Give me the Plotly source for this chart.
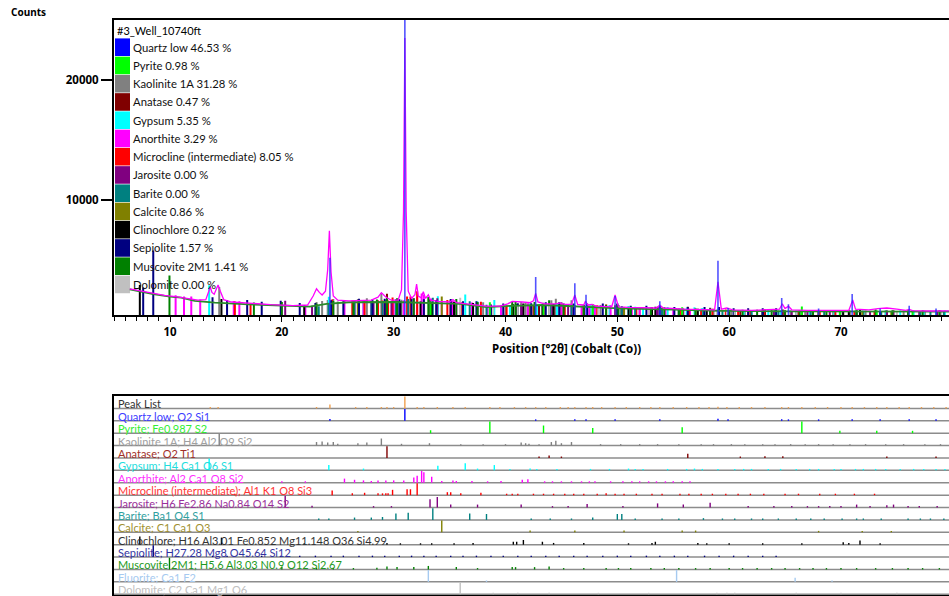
import numpy as np
import plotly.graph_objects as go

W, H = 949, 596
ML, MR, MT, MB = 114, 0, 20, 1
PW, PH = W - ML - MR, H - MT - MB

def px_x(px):
    return (px - ML) / PW

def px_y(py):
    return (H - MB - py) / PH

FONT = "Noto Sans"
LFONT = "Lato"
X_RANGE = [4.99, 79.66]
Y_RANGE = [400, 25000]

# ---------------- data ----------------
sample_name = "#3_Well_10740ft"

# background (green) line
bg_2theta = [6.4, 8.5, 10.0, 11.0, 12.2, 14.0, 17.0, 20.0, 22.5, 24.0, 26.0, 30.0, 33.0, 36.0,
             38.3, 40.5, 43.5, 46.0, 50.2, 55.0, 59.2, 65.0, 72.0, 79.66]
bg_counts = [2560, 2150, 1950, 1860, 1600, 1450, 1310, 1200, 1120, 1350, 1480, 1500, 1450, 1350,
             1080, 1180, 1250, 1150, 970, 860, 760, 720, 710, 700]

# observed scan (magenta)
obs_2theta = [6.4, 7.5, 8.5, 9.5, 10.5, 11.5, 12.5, 13.2, 13.45, 13.6, 13.75, 13.95, 14.15, 14.3,
              14.5, 14.8, 15.5, 17.0, 19.0, 21.0, 22.3, 22.8, 23.1, 23.35, 23.6, 23.9, 24.1, 24.25,
              24.4, 24.6, 25.0, 26.0, 27.0, 28.0, 28.6, 28.9, 29.2, 29.4, 29.8, 30.4, 30.7, 30.88,
              31.0, 31.12, 31.3, 31.6, 31.9, 32.05, 32.2, 32.45, 32.65, 32.85, 33.1, 33.3, 34.0,
              35.0, 35.3, 35.6, 36.5, 37.5, 38.3, 39.5, 40.2, 40.6, 41.0, 41.5, 42.2, 42.5, 42.7,
              42.9, 43.5, 44.5, 44.9, 45.3, 45.9, 46.2, 46.45, 47.0, 47.15, 47.35, 47.75, 48.1,
              49.5, 49.8, 50.1, 51.0, 53.5, 53.8, 54.1, 56.0, 58.7, 59.0, 59.3, 59.8, 60.3, 62.0,
              64.5, 64.75, 65.0, 65.3, 65.6, 67.0, 70.7, 71.05, 71.3, 72.5, 73.3, 74.1, 75.0, 75.8,
              76.1, 76.4, 78.0, 79.66]
obs_counts = [2600, 2400, 2200, 2050, 1950, 1800, 1650, 1700, 2400, 2750, 2300, 2150, 2600, 2920,
              2400, 1700, 1500, 1380, 1280, 1200, 1250, 2000, 2600, 2300, 2080, 2400, 4200, 7440,
              4000, 2000, 1650, 1600, 1620, 1650, 1900, 2280, 2000, 1850, 1650, 1650, 2500, 9000,
              23500, 9000, 2400, 1800, 2100, 3000, 2000, 1850, 2360, 1800, 2100, 1650, 1550,
              1500, 1700, 1450, 1350, 1250, 1150, 1150, 1350, 1550, 1500, 1500, 1450, 1600, 2220,
              1500, 1350, 1350, 1420, 1300, 1300, 2080, 1300, 1250, 1580, 1250, 1300, 1150,
              1100, 2080, 1100, 1050, 1000, 1250, 1000, 900, 850, 3190, 900, 1000, 850, 800,
              900, 1350, 950, 1150, 850, 800, 800, 1670, 900, 850, 950, 1000, 900, 800,
              880, 780, 750, 760]

# phases: legend name, percentage, colour
phase_names = ["Quartz low", "Pyrite", "Kaolinite 1A", "Anatase", "Gypsum", "Anorthite",
               "Microcline (intermediate)", "Jarosite", "Barite", "Calcite", "Clinochlore",
               "Sepiolite", "Muscovite 2M1", "Dolomite"]
phase_pct = [46.53, 0.98, 31.28, 0.47, 5.35, 3.29, 8.05, 0.00, 0.00, 0.86, 0.22, 1.57, 1.41, 0.00]
phase_colors = ["#0000ff", "#00ff00", "#808080", "#800000", "#00ffff", "#ff00ff", "#ff0000",
                "#800080", "#008080", "#808000", "#000000", "#000080", "#008000", "#c0c0c0"]
# top-plot stick height (counts above background) at relative intensity 100
phase_scale = [24000, 400, 1300, 700, 1300, 700, 900, 400, 400, 500, 500, 3650, 1550, 400]

# reference lines (2theta) and relative intensities per phase
quartz_pos = [24.3, 31.0, 42.7, 46.2, 47.2, 49.8, 53.8, 59.0, 59.9, 64.7, 65.3, 68.0, 71.0, 73.5, 76.1, 78.5]
quartz_rel = [16, 100, 10, 8, 4, 3.5, 2.5, 17, 1, 4.5, 2.5, 1, 6, 1, 2, 1]

pyrite_pos = [33.3, 38.6, 43.4, 47.8, 55.8, 66.5, 69.9, 73.2, 76.4]
pyrite_rel = [25, 100, 65, 45, 50, 100, 20, 20, 20]

kaolinite_pos = [14.4, 23.1, 23.6, 24.1, 24.6, 25.0, 26.8, 27.6, 28.9, 30.7, 33.2, 36.0, 38.0, 40.0,
                 41.4, 41.8, 42.1, 43.0, 44.1, 44.5, 45.0, 45.9, 48.5, 50.3, 52.0, 53.6, 55.5, 57.5,
                 58.6, 60.2, 61.4, 63.0, 64.1, 65.5, 66.8, 68.0, 69.3, 70.8, 72.2, 74.0, 75.6, 77.5, 78.9]
kaolinite_rel = [100, 30, 35, 25, 30, 15, 20, 25, 60, 15, 20, 10, 10, 8, 25, 20, 15, 10, 30, 40, 20,
                 30, 8, 6, 6, 6, 6, 6, 6, 5, 6, 5, 6, 5, 6, 5, 6, 5, 6, 8, 6, 5, 6]

anatase_pos = [29.4, 43.0, 43.9, 45.0, 56.3, 61.0, 63.2, 64.8, 74.1, 78.5]
anatase_rel = [100, 8, 20, 10, 35, 5, 15, 15, 10, 8]

gypsum_pos = [13.5, 24.2, 27.3, 33.95, 36.4, 37.5, 39.0, 40.4, 42.2, 42.8, 44.6, 47.6, 49.3, 51.0,
              51.6, 52.3, 54.5, 56.2, 56.9, 57.6, 59.0, 60.5, 61.3, 62.0, 63.5, 64.6, 66.0, 67.2,
              68.0, 69.4, 70.0, 71.3, 72.0, 73.1, 74.0, 75.3, 76.5, 77.4, 78.5, 79.3]
gypsum_rel = [100, 45, 15, 40, 60, 15, 45, 8, 15, 10, 8, 12, 8, 15, 10, 8, 8, 12, 15, 10, 8, 6, 6, 6,
              6, 6, 6, 6, 6, 6, 6, 6, 6, 6, 6, 6, 6, 6, 6, 6]

anorthite_pos = [10.5, 11.25, 11.9, 12.7, 15.7, 16.2, 20.0, 22.1, 25.6, 26.5, 27.3, 28.0, 28.6, 29.3,
                 30.0, 30.9, 31.8, 32.1, 32.5, 32.7, 33.4, 34.3, 35.3, 35.6, 37.0, 38.4, 39.6, 41.5,
                 42.0, 43.5, 44.2, 45.0, 45.9, 46.8, 47.5, 48.0, 49.4, 50.5, 51.3, 52.0, 52.8, 53.5,
                 54.3, 55.0, 55.8, 56.5]
anorthite_rel = [15, 15, 15, 15, 20, 15, 10, 8, 35, 25, 20, 15, 20, 18, 20, 20, 45, 60, 100, 90, 50,
                 15, 20, 15, 15, 8, 15, 25, 30, 10, 8, 8, 8, 8, 8, 8, 12, 8, 8, 8, 8, 8, 8, 8, 8, 8]

microcline_pos = [15.8, 17.2, 24.5, 26.3, 27.4, 28.6, 29.0, 29.3, 29.5, 29.9, 31.2, 31.5, 32.1, 34.8,
                  35.1, 36.0, 37.8, 40.1, 40.6, 41.1, 42.5, 43.4, 44.3, 45.3, 46.1, 47.0, 48.2, 49.0,
                  49.8, 50.6, 51.7, 53.1, 54.0, 55.6, 56.4, 57.5, 58.5, 59.7, 60.8, 61.9, 63.1, 65.0,
                  66.2, 68.1, 69.5, 71.2, 73.0]
microcline_rel = [10, 10, 40, 15, 20, 15, 15, 15, 15, 45, 50, 50, 100, 25, 25, 15, 20, 12, 12, 12, 8,
                  8, 8, 8, 8, 6, 8, 15, 8, 8, 8, 8, 8, 8, 8, 6, 8, 12, 8, 8, 8, 6, 6, 6, 6, 6, 6]

jarosite_pos = [20.3, 22.7, 28.2, 29.8, 33.25, 33.9, 35.1, 37.5, 41.4, 44.2, 45.6, 47.3, 50.5, 53.6,
                55.9, 58.3, 61.7, 64.0, 65.6, 67.0, 68.0, 69.0, 70.0, 71.4, 72.6, 74.1, 74.7, 76.0,
                77.0, 78.6]
jarosite_rel = [100, 15, 8, 8, 70, 90, 25, 25, 25, 8, 8, 30, 8, 35, 25, 40, 10, 8, 8, 10, 10, 10, 10,
                25, 8, 20, 25, 8, 10, 8]

barite_pos = [23.3, 24.2, 26.5, 28.0, 29.0, 30.2, 31.3, 33.5, 36.8, 38.3, 42.3, 44.0, 45.9, 47.8,
              50.0, 50.4, 51.6, 54.0, 55.5, 57.7, 59.4, 60.5, 62.0, 63.0, 64.4, 66.0, 67.3, 68.5,
              70.1, 71.4, 72.0, 73.6, 76.0, 77.1, 78.0, 79.2]
barite_rel = [8, 8, 20, 20, 25, 55, 60, 100, 55, 50, 8, 6, 6, 20, 50, 50, 8, 6, 6, 15, 6, 6, 6, 6, 6,
              6, 6, 6, 6, 8, 6, 6, 6, 6, 6, 6]

calcite_pos = [26.8, 34.3, 42.2, 46.2, 50.6, 55.8, 57.0, 68.0, 71.9, 74.5]
calcite_rel = [10, 100, 15, 15, 15, 15, 15, 6, 10, 6]

clinochlore_pos = [7.3, 14.6, 22.0, 29.4, 30.6, 32.4, 33.4, 35.4, 37.1, 40.7, 41.0, 41.6, 43.3, 44.3,
                   47.0, 51.0, 53.1, 53.4, 57.2, 58.0, 60.0, 63.0, 66.5, 70.2, 70.7, 71.7, 73.5]
clinochlore_rel = [70, 60, 8, 15, 8, 8, 8, 10, 15, 25, 25, 40, 25, 15, 15, 8, 15, 25, 15, 10, 8, 8, 8,
                   20, 15, 35, 10]

sepiolite_pos = [7.6, 8.5, 13.8, 15.1, 16.9, 18.2, 19.9, 21.6, 23.0, 24.4, 25.5, 26.9, 28.1, 29.2,
                 30.5, 31.6, 32.7, 33.8, 35.1, 36.2, 37.4, 38.7, 39.8, 41.1, 42.3, 43.6, 44.8, 46.1,
                 47.3, 48.7, 50.0, 51.2, 52.6, 53.8, 55.1, 56.3, 57.8, 59.1, 60.4, 61.7, 63.0, 64.2]
sepiolite_rel = [4, 100, 8, 6, 6, 6, 8, 6, 8, 8, 6, 8, 6, 8, 6, 8, 6, 6, 8, 6, 6, 6, 8, 6, 6, 6, 6, 6,
                 6, 6, 6, 6, 6, 6, 6, 6, 6, 6, 6, 6, 6, 6]

muscovite_pos = [9.95, 17.5, 20.0, 23.1, 24.6, 26.4, 28.5, 29.4, 30.3, 31.8, 33.1, 35.6, 37.5, 40.6,
                 40.9, 42.6, 43.9, 45.2, 47.0, 49.0, 50.1, 51.2, 53.0, 54.2, 55.5, 57.0, 58.3, 60.0,
                 61.2, 62.5, 63.8, 65.0, 66.3, 67.5, 68.7, 70.0, 71.4, 73.1, 74.6, 76.0, 77.3, 78.8]
muscovite_rel = [100, 10, 20, 15, 15, 8, 15, 25, 20, 20, 30, 20, 10, 20, 20, 20, 25, 8, 8, 8, 6, 8, 6,
                 6, 6, 6, 6, 6, 6, 6, 6, 6, 6, 6, 6, 6, 6, 10, 6, 6, 6, 6]

dolomite_pos = [35.95, 38.9, 41.1, 43.9, 48.3, 52.8, 58.9, 59.8, 60.5, 66.0, 70.0, 75.0]
dolomite_rel = [100, 8, 8, 8, 8, 8, 8, 8, 6, 6, 6, 6]

fluorite_pos = [33.1, 38.3, 55.3, 65.9, 69.2]
fluorite_rel = [100, 10, 100, 35, 8]

peaklist_pos = [13.6, 14.3, 23.1, 24.3, 26.6, 27.6, 28.9, 29.4, 30.0, 31.0, 32.1, 32.7, 33.9, 35.3,
                36.4, 38.6, 39.5, 40.8, 41.8, 42.7, 43.6, 44.9, 45.6, 46.2, 47.2, 47.8, 48.6, 49.8,
                50.8, 52.0, 53.0, 53.8, 55.0, 56.2, 57.3, 58.2, 59.0, 59.8, 60.9, 62.0, 63.2, 64.7,
                65.3, 66.5, 67.7, 68.8, 70.0, 71.0, 72.1, 73.2, 74.1, 75.2, 76.1, 77.2, 78.3, 79.4]
peaklist_rel = [8, 10, 8, 32, 6, 6, 10, 8, 6, 100, 12, 10, 6, 6, 6, 6, 6, 8, 6, 8, 6, 6, 6, 8, 6, 6,
                6, 8, 6, 6, 6, 6, 6, 6, 6, 6, 15, 6, 6, 6, 6, 8, 6, 6, 6, 6, 6, 8, 6, 6, 6, 6, 6, 6,
                6, 6]

top_pos = [quartz_pos, pyrite_pos, kaolinite_pos, anatase_pos, gypsum_pos, anorthite_pos,
           microcline_pos, jarosite_pos, barite_pos, calcite_pos, clinochlore_pos, sepiolite_pos,
           muscovite_pos, dolomite_pos]
top_rel = [quartz_rel, pyrite_rel, kaolinite_rel, anatase_rel, gypsum_rel, anorthite_rel,
           microcline_rel, jarosite_rel, barite_rel, calcite_rel, clinochlore_rel, sepiolite_rel,
           muscovite_rel, dolomite_rel]

# bottom panel rows (top to bottom)
row_labels = ["Peak List", "Quartz low; O2 Si1", "Pyrite; Fe0.987 S2", "Kaolinite 1A; H4 Al2 O9 Si2",
              "Anatase; O2 Ti1", "Gypsum; H4 Ca1 O6 S1", "Anorthite; Al2 Ca1 O8 Si2",
              "Microcline (intermediate); Al1 K1 O8 Si3", "Jarosite; H6 Fe2.86 Na0.84 O14 S2",
              "Barite; Ba1 O4 S1", "Calcite; C1 Ca1 O3",
              "Clinochlore; H16 Al3.01 Fe0.852 Mg11.148 O36 Si4.99",
              "Sepiolite; H27.28 Mg8 O45.64 Si12", "Muscovite 2M1; H5.6 Al3.03 N0.9 O12 Si2.67",
              "Fluorite; Ca1 F2", "Dolomite; C2 Ca1 Mg1 O6"]
row_label_colors = ["#333333", "#3c3cff", "#33ee33", "#a0a0a0", "#a0302a", "#22dddd", "#ff30ff",
                    "#ff3333", "#9a309a", "#30a0a0", "#a09030", "#333333", "#3333a0", "#229922",
                    "#a6caf0", "#c0c0c0"]
row_stick_colors = ["#f0a050", "#0000ff", "#00ff00", "#808080", "#800000", "#00ffff", "#ff00ff",
                    "#ff0000", "#800080", "#008080", "#808000", "#000000", "#000080", "#008000",
                    "#a6caf0", "#c0c0c0"]
row_pos = [peaklist_pos, quartz_pos, pyrite_pos, kaolinite_pos, anatase_pos, gypsum_pos,
           anorthite_pos, microcline_pos, jarosite_pos, barite_pos, calcite_pos, clinochlore_pos,
           sepiolite_pos, muscovite_pos, fluorite_pos, dolomite_pos]
row_rel = [peaklist_rel, quartz_rel, pyrite_rel, kaolinite_rel, anatase_rel, gypsum_rel,
           anorthite_rel, microcline_rel, jarosite_rel, barite_rel, calcite_rel, clinochlore_rel,
           sepiolite_rel, muscovite_rel, fluorite_rel, dolomite_rel]

# ---------------- figure ----------------
fig = go.Figure()
bg_x = np.array(bg_2theta)
bg_y = np.array(bg_counts)

def bg_level(p):
    i = int(np.searchsorted(bg_x, p, side="right")) - 1
    i = min(max(i, 0), len(bg_y) - 1)
    return bg_y[i]

# phase reference sticks in the main plot (quartz drawn last, over the scan)
order = [2, 3, 4, 5, 6, 7, 8, 9, 10, 11, 12, 13, 1]
for k in order:
    xs, ys = [], []
    for p, r in zip(top_pos[k], top_rel[k]):
        xs += [p, p, None]
        ys += [Y_RANGE[0], bg_level(p) + r / 100 * phase_scale[k], None]
    fig.add_trace(go.Scatter(x=xs, y=ys, mode="lines", line=dict(color=phase_colors[k], width=2.0),
                             hoverinfo="skip", showlegend=False, xaxis="x", yaxis="y"))

fig.add_trace(go.Scatter(x=bg_2theta, y=bg_counts, mode="lines", line=dict(color="#2a8a2a", width=1.8),
                         hoverinfo="skip", showlegend=False, xaxis="x", yaxis="y"))
fig.add_trace(go.Scatter(x=obs_2theta, y=obs_counts, mode="lines", line=dict(color="#ff00ff", width=1.3),
                         hoverinfo="skip", showlegend=False, xaxis="x", yaxis="y"))
xs, ys = [], []
for p, r in zip(quartz_pos, quartz_rel):
    xs += [p, p, None]
    ys += [Y_RANGE[0], bg_level(p) + r / 100 * phase_scale[0], None]
fig.add_trace(go.Scatter(x=xs, y=ys, mode="lines", line=dict(color="rgba(40,40,255,0.8)", width=1.6),
                         hoverinfo="skip", showlegend=False, xaxis="x", yaxis="y"))

# bottom panel sticks
n_rows = len(row_labels)
shapes = []
annotations = []
for i in range(n_rows):
    base = (n_rows - 1) - i
    shapes.append(dict(type="line", xref="paper", x0=0, x1=1, yref="y2", y0=base, y1=base,
                       line=dict(color="#8c8c8c", width=1.5), layer="below"))
    xs, ys = [], []
    for p, r in zip(row_pos[i], row_rel[i]):
        xs += [p, p, None]
        ys += [base, base + max(r / 100, 0.12) * 0.95, None]
    fig.add_trace(go.Scatter(x=xs, y=ys, mode="lines", line=dict(color=row_stick_colors[i], width=1.4),
                             hoverinfo="skip", showlegend=False, xaxis="x2", yaxis="y2"))
    annotations.append(dict(text=row_labels[i], xref="paper", yref="y2", x=px_x(116), y=base,
                            xanchor="left", yanchor="bottom", yshift=-4, showarrow=False,
                            font=dict(family=LFONT, size=11.0, color=row_label_colors[i])))

# legend of main plot
annotations.append(dict(text=sample_name, xref="paper", yref="paper", x=px_x(115), y=px_y(30),
                        xanchor="left", yanchor="middle", showarrow=False,
                        font=dict(family=LFONT, size=11.0, color="#000000")))
for i, (nm, pc, col) in enumerate(zip(phase_names, phase_pct, phase_colors)):
    cy = 47.2 + i * 18.25
    shapes.append(dict(type="rect", xref="paper", yref="paper", x0=px_x(115), x1=px_x(130),
                       y0=px_y(cy + 8.8), y1=px_y(cy - 8.8), fillcolor=col, line=dict(width=0),
                       layer="below"))
    annotations.append(dict(text=f"{nm} {pc:.2f} %", xref="paper", yref="paper", x=px_x(130.5),
                            y=px_y(cy), xanchor="left", yanchor="middle", showarrow=False,
                            font=dict(family=LFONT, size=11.3, color="#111111")))

annotations.append(dict(text="<b>Counts</b>", xref="paper", yref="paper", x=px_x(9), y=px_y(12),
                        xanchor="left", yanchor="middle", showarrow=False,
                        font=dict(family=FONT, size=10, color="#000000")))
annotations.append(dict(text="<b>Position [°2θ] (Cobalt (Co))</b>", xref="paper", yref="paper",
                        x=px_x(566.5), y=px_y(348), xanchor="center", yanchor="middle", showarrow=False,
                        font=dict(family=FONT, size=11.5, color="#000000")))

fig.update_layout(
    width=W, height=H, margin=dict(l=ML, r=MR, t=MT, b=MB), paper_bgcolor="white",
    plot_bgcolor="white", showlegend=False, shapes=shapes, annotations=annotations,
    font=dict(family=FONT, size=12, color="#000000"),
    xaxis=dict(domain=[0, 1], range=X_RANGE, anchor="y", tickmode="array",
               tickvals=[10, 20, 30, 40, 50, 60, 70], ticks="outside", ticklen=5, tickwidth=1,
               tickcolor="#000000", showline=True, linewidth=2, linecolor="#000000", mirror=True,
               showgrid=False, zeroline=False,
               tickfont=dict(family=FONT, size=11.5, color="#000000", weight="bold"),
               minor=dict(dtick=1, tick0=0, ticks="outside", ticklen=4, tickcolor="#000000",
                          showgrid=False)),
    yaxis=dict(domain=[px_y(315.2), 1.0], range=Y_RANGE, tickmode="array", tickvals=[10000, 20000],
               ticktext=["10000", "20000"], ticks="outside", ticklen=11, tickwidth=1.5,
               tickcolor="#000000", showline=True, linewidth=2, linecolor="#000000", showgrid=False,
               zeroline=False, tickfont=dict(family=FONT, size=11.5, color="#000000", weight="bold")),
    xaxis2=dict(domain=[0, 1], range=X_RANGE, anchor="y2", matches="x", showticklabels=False,
                ticks="", showline=True, linewidth=2, linecolor="#000000", mirror=True,
                showgrid=False, zeroline=False),
    yaxis2=dict(domain=[0, px_y(396)], range=[-0.06, 16.0], showticklabels=False, ticks="",
                showline=True, linewidth=2, linecolor="#000000", showgrid=False, zeroline=False),
)

fig.write_html("out.html", config={"displayModeBar": False},
               post_script="document.body.style.margin='0';document.body.style.padding='0';")
